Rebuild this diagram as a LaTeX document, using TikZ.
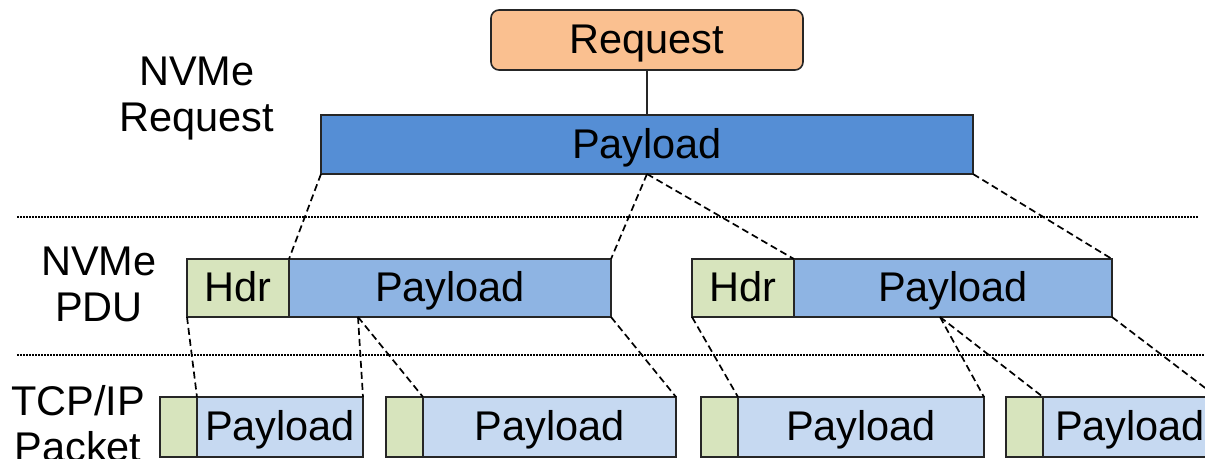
\documentclass[tikz,border=0pt]{standalone}
\usepackage{fontspec}
\setmainfont{Liberation Sans}
\usepackage{tikz}

\definecolor{reqorange}{HTML}{FAC090}
\definecolor{plblue}{HTML}{558ED5}
\definecolor{pdublue}{HTML}{8EB4E3}
\definecolor{tcpblue}{HTML}{C6D9F1}
\definecolor{hdrgreen}{HTML}{D7E4BD}
\definecolor{edge}{HTML}{262626}

\begin{document}
\begin{tikzpicture}[x=1pt, y=-1pt,
		every node/.style={font=\fontsize{41.5}{46}\selectfont},
		block/.style={rectangle, draw=edge, line width=1.6pt, anchor=north west,
			inner sep=0pt, outer sep=0pt, text height=27.6pt, text depth=0pt},
		layer/.style={align=center, inner sep=0pt, anchor=north},
		split/.style={dash pattern=on 7pt off 4pt, line width=1.7pt},
		sep/.style={dash pattern=on 1.5pt off 1.5pt, line width=1.6pt}]
			\clip (0,0) rectangle (1205,458);

			\node[layer] (lreq) at (197,57) {NVMe\\Request};
			\node[layer] (lpdu) at (99,247) {NVMe\\PDU};
			\node[layer] (ltcp) at (78,385) {TCP/IP\\Packet};

			\draw[sep] (17,217) -- (1198,217);
			\draw[sep] (17,355) -- (1205,355);

			\node[block, rounded corners=8pt, fill=reqorange, minimum width=312pt, minimum height=60pt] (req) at (491,10) {Request};
			\node[block, fill=plblue, minimum width=652pt, minimum height=59pt] (top) at (321,115) {Payload};
			\draw[edge, line width=1.2pt] (req.south) -- (top.north);

			\foreach \n/\x/\w in {1/187/322, 2/692/318} {
				\node[block, fill=hdrgreen, minimum width=102pt, minimum height=58pt] (ph\n) at (\x,259) {Hdr};
				\node[block, fill=pdublue, minimum width=\w pt, minimum height=58pt] (pp\n) at (ph\n.north east) {Payload};
			}

			\foreach \n/\x/\w in {1/160/166, 2/386/253, 3/701/246, 4/1006/174} {
				\node[block, fill=hdrgreen, minimum width=37pt, minimum height=60pt] (th\n) at (\x,397) {};
				\node[block, fill=tcpblue, minimum width=\w pt, minimum height=60pt] (tp\n) at (th\n.north east) {Payload};
			}

			\coordinate (cut1) at (358,317);
			\coordinate (cut2) at (940,317);

			\foreach \a/\b in {top.south west/pp1.north west, top.south/pp1.north east,
					top.south/pp2.north west, top.south east/pp2.north east,
					ph1.south west/tp1.north west, cut1/tp1.north east, cut1/tp2.north west,
					pp1.south east/tp2.north east, ph2.south west/tp3.north west,
					cut2/tp3.north east, cut2/tp4.north west, pp2.south east/tp4.north east} {
				\draw[split] (\a) -- (\b);
			}
		\end{tikzpicture}
\end{document}
